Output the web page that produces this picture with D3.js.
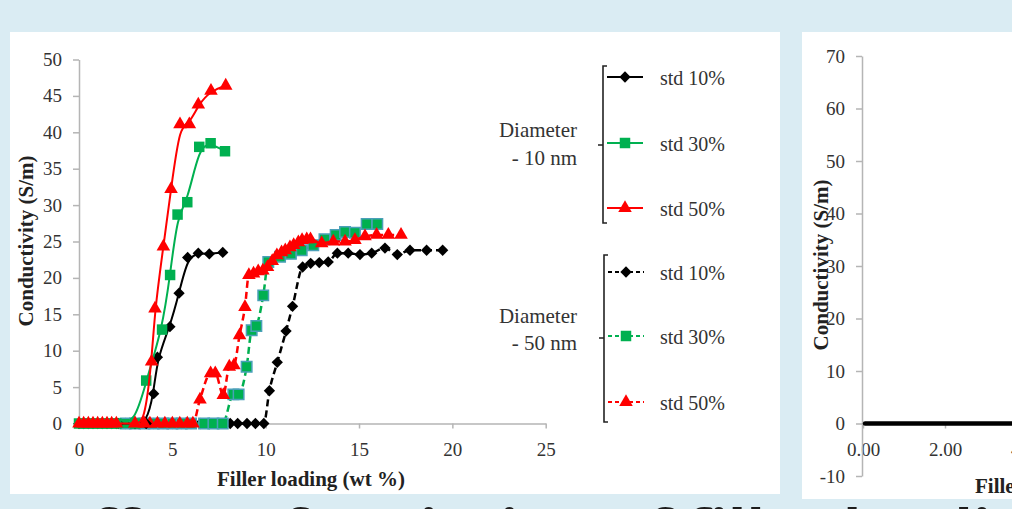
<!DOCTYPE html>
<html>
<head>
<meta charset="utf-8">
<script src="https://d3js.org/d3.v7.min.js"></script>
<style>
  body { margin: 0; background: #daecf3; }
  svg { display: block; }
  .axis path, .axis line { stroke: #b5b5b5; stroke-width: 1.5px; }
  .axis text { font-family: 'Liberation Serif', serif; font-size: 19px; fill: #333; }
  .title { font-family: 'Liberation Serif', serif; font-size: 21px; font-weight: bold; fill: #222; }
  .legend text { font-family: 'Liberation Serif', serif; font-size: 20px; fill: #333; }
  .legend .group { font-size: 21px; }
  .heading { font-family: 'Open Sans', sans-serif; font-size: 60px; font-weight: bold; fill: #1c1c1c; }
</style>
</head>
<body>
<svg id="chart" width="1012" height="509"></svg>
<script>
// ---- data ----
// diameter 10 nm
const x10Std10 = [0, 0.25, 0.5, 0.75, 1, 1.25, 1.5, 1.75, 2.1, 3.0, 3.6, 4.0, 4.2, 4.87, 5.36, 5.82, 6.39, 6.98, 7.7];
const y10Std10 = [0, 0, 0, 0, 0, 0, 0, 0, 0, 0, 0, 4.1, 9.1, 13.3, 17.9, 22.8, 23.4, 23.3, 23.5];
const x10Std30 = [0, 0.25, 0.5, 0.75, 1, 1.25, 1.5, 1.75, 2, 3.0, 3.6, 4.45, 4.88, 5.28, 5.8, 6.44, 7.05, 7.82];
const y10Std30 = [0, 0, 0, 0, 0, 0, 0, 0, 0, 0, 5.9, 12.9, 20.4, 28.7, 30.4, 38.0, 38.5, 37.4];
const x10Std50 = [0, 0.25, 0.5, 0.75, 1, 1.25, 1.5, 1.75, 2, 3.0, 3.5, 3.89, 4.07, 4.52, 4.93, 5.41, 5.91, 6.39, 7.07, 7.86];
const y10Std50 = [0, 0, 0, 0, 0, 0, 0, 0, 0, 0, 0, 8.5, 15.8, 24.3, 32.2, 41.1, 41.1, 43.8, 45.7, 46.4];
// diameter 50 nm
const x50Std10 = [2, 2.5, 3, 3.5, 4, 4.5, 5, 5.5, 6, 6.5, 7, 7.5, 8.1, 8.5, 9.0, 9.45, 9.9,
  10.2, 10.62, 11.09, 11.44, 11.98, 12.41, 12.87, 13.35, 13.84, 14.42, 15.05, 15.68, 16.39, 17.05, 17.73, 18.62, 19.48];
const y50Std10 = [0, 0, 0, 0, 0, 0, 0, 0, 0, 0, 0, 0, 0, 0, 0, 0, 0,
  4.5, 8.4, 12.7, 16.1, 21.5, 22.0, 22.1, 22.2, 23.4, 23.4, 23.2, 23.4, 24.1, 23.2, 23.8, 23.8, 23.8];
const x50Std30 = [2.5, 3, 3.5, 4, 4.5, 5, 5.5, 6, 6.7, 7.2, 7.7,
  8.27, 8.55, 8.98, 9.25, 9.5, 9.87, 10.14, 10.77, 11.35, 11.93, 12.55, 13.15, 13.75, 14.25, 14.78, 15.41, 15.98];
const y50Std30 = [0, 0, 0, 0, 0, 0, 0, 0, 0, 0, 0,
  4.0, 4.0, 7.8, 12.8, 13.4, 17.6, 22.2, 22.9, 23.3, 23.8, 24.5, 25.3, 25.9, 26.3, 26.2, 27.4, 27.4];
const x50Std50 = [3, 3.4, 3.8, 4.2, 4.6, 5, 5.4, 5.8, 6.1, 6.48, 7.05, 7.3, 7.73, 8.05, 8.3, 8.6, 8.89,
  9.1, 9.35, 9.6, 9.85, 10.1, 10.35, 10.6, 10.85, 11.05, 11.3, 11.5, 11.75, 11.95, 12.2, 12.4,
  13.0, 13.62, 14.25, 14.78, 15.32, 15.94, 16.57, 17.25];
const y50Std50 = [0, 0, 0, 0, 0, 0, 0, 0, 0, 3.3, 6.9, 6.9, 3.9, 7.8, 8.0, 12.1, 16.0,
  20.4, 20.6, 20.9, 21.0, 21.5, 22.3, 23.1, 23.5, 23.8, 24.2, 24.5, 24.9, 25.2, 25.3, 25.3,
  24.75, 25.0, 25.0, 25.2, 25.7, 25.9, 25.9, 25.9];
// second (cut off) panel
const xRight = [0.05, 0.5, 1, 1.5, 2, 2.5, 3, 3.5, 4, 4.5];
const yRight = [0, 0, 0, 0, 0, 0, 0, 0, 0, 0];

const xTicks = [0, 5, 10, 15, 20, 25];
const yTicks = [0, 5, 10, 15, 20, 25, 30, 35, 40, 45, 50];
const xTicksRight = [0, 2, 4];
const yTicksRight = [-10, 0, 10, 20, 30, 40, 50, 60, 70];
const legendLabels = ['std 10%', 'std 30%', 'std 50%'];
const groupLabels = [['Diameter', '- 10 nm'], ['Diameter', '- 50 nm']];

// ---- setup ----
const svg = d3.select('#chart');
svg.append('rect').attr('width', 1012).attr('height', 509).attr('fill', '#daecf3');
svg.append('text').attr('class', 'heading').attr('x', 58).attr('y', 553)
  .text('Effect of variation of filler loading');
svg.append('rect').attr('x', 10).attr('y', 32).attr('width', 770).attr('height', 462).attr('fill', '#fff');
svg.append('rect').attr('x', 802).attr('y', 32).attr('width', 230).attr('height', 467).attr('fill', '#fff');

// ---- left chart ----
const x = d3.scaleLinear().domain([0, 25]).range([79, 545.7]);
const y = d3.scaleLinear().domain([0, 50]).range([423.5, 59.5]);

svg.append('g').attr('class', 'axis').attr('transform', 'translate(0,' + y(0) + ')')
  .call(d3.axisBottom(x).tickValues(xTicks).tickSize(5).tickSizeOuter(0).tickPadding(14).tickFormat(d3.format('d')));
svg.append('g').attr('class', 'axis').attr('transform', 'translate(' + x(0) + ',0)')
  .call(d3.axisLeft(y).tickValues(yTicks).tickSize(6).tickSizeOuter(0).tickPadding(11).tickFormat(d3.format('d')));

svg.append('text').attr('class', 'title').attr('x', 311).attr('y', 486).attr('text-anchor', 'middle')
  .text('Filler loading (wt %)');
svg.append('text').attr('class', 'title').attr('transform', 'translate(33,241) rotate(-90)')
  .attr('text-anchor', 'middle').text('Conductivity (S/m)');

const symTri = d3.symbol().type(d3.symbolTriangle).size(80)();
const symSq = d3.symbol().type(d3.symbolSquare).size(110)();
const symDia = d3.symbol().type(d3.symbolSquare).size(64)();

const series = [
  { xs: x50Std10, ys: y50Std10, color: '#000', dash: true, shape: symDia, rot: 45 },
  { xs: x50Std30, ys: y50Std30, color: '#00b050', dash: true, shape: symSq, border: '#4aa0b8' },
  { xs: x50Std50, ys: y50Std50, color: '#ff0000', dash: true, shape: symTri },
  { xs: x10Std10, ys: y10Std10, color: '#000', dash: false, shape: symDia, rot: 45 },
  { xs: x10Std30, ys: y10Std30, color: '#00b050', dash: false, shape: symSq },
  { xs: x10Std50, ys: y10Std50, color: '#ff0000', dash: false, shape: symTri }
];

const dashLine = d3.line().x(d => x(d[0])).y(d => y(d[1])).curve(d3.curveMonotoneX);
const solidLine = d3.line().x(d => x(d[0])).y(d => y(d[1])).curve(d3.curveBasis);
const plot = svg.append('g');

series.forEach(s => {
  const pts = s.xs.map((v, i) => [v, s.ys[i]]);
  plot.append('path').datum(pts)
    .attr('fill', 'none')
    .attr('stroke', s.color)
    .attr('stroke-width', s.dash ? 2.5 : 2)
    .attr('stroke-dasharray', s.dash ? '7,4' : null)
    .attr('d', s.dash ? dashLine : solidLine);
  plot.append('g').selectAll('path').data(pts).join('path')
    .attr('transform', d => 'translate(' + x(d[0]) + ',' + y(d[1]) + ')' + (s.rot ? ' rotate(' + s.rot + ')' : ''))
    .attr('d', s.shape)
    .attr('fill', s.color)
    .attr('stroke', s.border || 'none')
    .attr('stroke-width', 1.5);
});

// ---- legend ----
const legendGroups = [
  { top: 66, bottom: 223, mid: 145, bx: 603, items: [77, 143, 208], dash: false, labelY: [137, 165], src: series.slice(3) },
  { top: 255, bottom: 422, mid: 338, bx: 604, items: [272, 336, 402], dash: true, labelY: [323, 350], src: series.slice(0, 3) }
];
const legend = svg.append('g').attr('class', 'legend');
legendGroups.forEach((g, gi) => {
  legend.append('path')
    .attr('d', 'M' + (g.bx + 4) + ',' + g.top + 'H' + g.bx + 'V' + g.bottom + 'H' + (g.bx + 4) + 'M' + g.bx + ',' + g.mid + 'H' + (g.bx - 5))
    .attr('fill', 'none').attr('stroke', '#222').attr('stroke-width', 1.6);
  g.src.forEach((s, i) => {
    const ly = g.items[i];
    legend.append('line').attr('x1', g.bx + 4).attr('x2', g.bx + 40).attr('y1', ly).attr('y2', ly)
      .attr('stroke', s.color).attr('stroke-width', 2).attr('stroke-dasharray', g.dash ? '4,3' : null);
    legend.append('path')
      .attr('transform', 'translate(' + (g.bx + 22) + ',' + ly + ')' + (s.rot ? ' rotate(45)' : ''))
      .attr('d', s.shape).attr('fill', s.color);
    legend.append('text').attr('x', 660).attr('y', ly + 8).text(legendLabels[i]);
  });
  groupLabels[gi].forEach((t, j) => {
    legend.append('text').attr('class', 'group').attr('x', 577).attr('y', g.labelY[j])
      .attr('text-anchor', 'end').text(t);
  });
});

// ---- right (cut off) chart ----
const rx = d3.scaleLinear().domain([0, 4]).range([863, 1027]);
const ry = d3.scaleLinear().domain([-10, 70]).range([476, 56]);

svg.append('g').attr('class', 'axis').attr('transform', 'translate(0,' + ry(0) + ')')
  .call(d3.axisBottom(rx).tickValues(xTicksRight).tickSize(5).tickSizeOuter(0).tickPadding(14).tickFormat(d3.format('.2f')));
svg.append('g').attr('class', 'axis').attr('transform', 'translate(862,0)')
  .call(d3.axisLeft(ry).tickValues(yTicksRight).tickSize(6).tickSizeOuter(0).tickPadding(11).tickFormat(d => d < 0 ? '-' + Math.abs(d) : d));

svg.append('path').datum(xRight.map((v, i) => [v, yRight[i]]))
  .attr('fill', 'none').attr('stroke', '#000').attr('stroke-width', 4.5).attr('stroke-linecap', 'round')
  .attr('d', d3.line().x(d => rx(d[0])).y(d => ry(d[1])));

svg.append('text').attr('class', 'title').attr('transform', 'translate(828,265) rotate(-90)')
  .attr('text-anchor', 'middle').text('Conductivity (S/m)');
svg.append('text').attr('class', 'title').attr('x', 975).attr('y', 493).text('Filler loading (wt %)');
</script>
</body>
</html>
